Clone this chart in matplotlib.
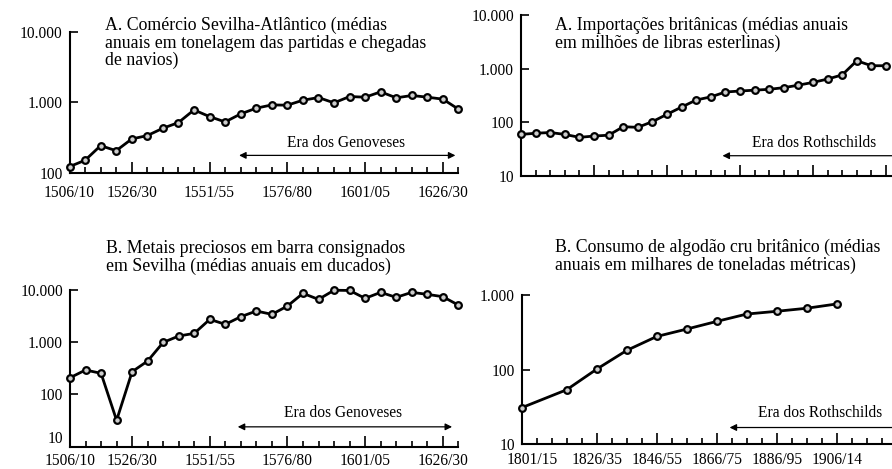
import numpy as np
import matplotlib
matplotlib.use("Agg")
import matplotlib.pyplot as plt
from matplotlib.ticker import FixedLocator, NullFormatter, NullLocator

plt.rcParams["font.family"] = ["Liberation Serif", "DejaVu Serif"]

W, H = 892, 469

# --- data ---
seville_periods = ["1506/10", "1526/30", "1551/55", "1576/80", "1601/05", "1626/30"]
seville_label_idx = [0, 4, 9, 14, 19, 24]
seville_trade = [122, 150, 242, 205, 301, 336, 427, 514, 777, 625, 525, 682, 822,
                 915, 907, 1067, 1164, 979, 1203, 1178, 1402, 1153, 1245, 1178, 1104, 795]
seville_bullion = [209, 294, 254, 32, 273, 437, 993, 1314, 1479, 2742, 2198, 3085, 3958,
                   3417, 4934, 8630, 6610, 9900, 9800, 6920, 9010, 7230, 9010, 8260, 7450, 5150]

uk_imports = [59, 62, 64, 59, 52, 55, 57, 82, 80, 102, 140, 191, 259, 296, 365, 381,
              395, 410, 440, 490, 552, 637, 762, 1400, 1130, 1130]

cotton_periods = ["1801/15", "1816/25", "1826/35", "1836/45", "1846/55", "1856/65",
                  "1866/75", "1876/85", "1886/95", "1896/05", "1906/14"]
cotton_x = [1805, 1820, 1830, 1840, 1850, 1860, 1870, 1880, 1890, 1900, 1910]
cotton = [31, 54, 102, 182, 280, 352, 446, 560, 610, 670, 765]

fig = plt.figure(figsize=(W / 100, H / 100), dpi=100)
fig.patch.set_facecolor("white")

TITLE_FS = 12.8
TICK_FS = 11.2
LS = 1.03


def add_ax(x0, y0, x1, y1):
    # pixel box (top-left origin) -> figure fraction
    return fig.add_axes([x0 / W, 1 - y1 / H, (x1 - x0) / W, (y1 - y0) / H])


def style(ax, ymin, ymax):
    ax.set_yscale("log")
    ax.set_ylim(ymin, ymax)
    for s in ["top", "right"]:
        ax.spines[s].set_visible(False)
    for s in ["left", "bottom"]:
        ax.spines[s].set_linewidth(1.5)
    decades = [10 ** k for k in range(int(np.log10(ymin)), int(np.log10(ymax)) + 1)]
    ax.yaxis.set_major_locator(FixedLocator(decades))
    ax.yaxis.set_minor_locator(NullLocator())
    ax.set_yticklabels([f"{d:,}".replace(",", ".") for d in decades])
    ax.tick_params(axis="y", direction="in", length=6, width=1.2, pad=5, labelsize=TICK_FS)
    ax.tick_params(axis="x", which="major", direction="in", length=8, width=1.2,
                   pad=7, labelsize=TICK_FS)
    ax.tick_params(axis="x", which="minor", direction="in", length=4.5, width=1.2)
    ax.set_facecolor("none")


def series(ax, x, y):
    ax.plot(x, y, color="black", lw=2.0, marker="o", ms=4.8, mfc="#cccccc",
            mec="black", mew=1.6, clip_on=False, zorder=3)


def era(ax, x0, x1, y, label, tx, ty, both=True, ha="center"):
    ax.annotate("", xy=(x0, y), xytext=(x1, y),
                arrowprops=dict(arrowstyle="<|-|>" if both else "-|>",
                                color="black", lw=0.9, mutation_scale=10,
                                shrinkA=0, shrinkB=0),
                annotation_clip=False)
    ax.text(tx, ty, label, ha=ha, va="center", fontsize=11.2)


# --- top left: Seville-Atlantic trade ---
ax1 = add_ax(69.5, 31.7, 458.5, 172.7)
style(ax1, 100, 10000)
idx = np.arange(len(seville_trade))
series(ax1, idx, seville_trade)
ax1.set_xlim(0, 25)
ax1.set_xticks(seville_label_idx, seville_periods)
ax1.xaxis.set_minor_locator(FixedLocator(idx))
ax1.tick_params(axis="x", which="major", pad=9)
era(ax1, 10.9, 24.8, 176, "Era dos Genoveses", 17.8, 260)
fig.text(105 / W, 1 - 17 / H,
         "A. Comércio Sevilha-Atlântico (médias\nanuais em tonelagem das partidas e chegadas\nde navios)",
         ha="left", va="top", fontsize=TITLE_FS, linespacing=LS)

# --- bottom left: bullion ---
ax2 = add_ax(70, 290, 458.3, 446.7)
style(ax2, 10, 10000)
series(ax2, idx, seville_bullion)
ax2.set_xlim(0, 25)
ax2.set_xticks(seville_label_idx, seville_periods)
ax2.xaxis.set_minor_locator(FixedLocator(idx))
ax2.tick_params(axis="x", which="major", pad=4.5)
ax2.get_yticklabels()[0].set_va("bottom")  # "10" sits just above the corner
era(ax2, 10.8, 24.6, 24, "Era dos Genoveses", 17.6, 44.8)
fig.text(106 / W, 1 - 240 / H,
         "B. Metais preciosos em barra consignados\nem Sevilha (médias anuais em ducados)",
         ha="left", va="top", fontsize=TITLE_FS, linespacing=LS)

# --- top right: British imports ---
ax3 = add_ax(521, 15, 907.9, 175.7)
style(ax3, 10, 10000)
idx3 = np.arange(len(uk_imports))
series(ax3, idx3, uk_imports)
ax3.set_xlim(0, 26.5)
ax3.xaxis.set_major_locator(FixedLocator([5, 10, 15, 20, 25]))
ax3.xaxis.set_major_formatter(NullFormatter())
ax3.xaxis.set_minor_locator(FixedLocator(np.arange(27)))
era(ax3, 13.8, 28, 23.6, "Era dos Rothschilds", 15.8, 41.3, both=False, ha="left")
fig.text(555 / W, 1 - 17 / H,
         "A. Importações britânicas (médias anuais\nem milhões de libras esterlinas)",
         ha="left", va="top", fontsize=TITLE_FS, linespacing=LS)

# --- bottom right: raw cotton ---
ax4 = add_ax(521.7, 295.3, 911.7, 444.3)
style(ax4, 10, 1000)
series(ax4, cotton_x, cotton)
ax4.set_xlim(1805, 1935)
ax4.xaxis.set_major_locator(FixedLocator([1830, 1850, 1870, 1890, 1910]))
ax4.set_xticklabels([cotton_periods[i] for i in (2, 4, 6, 8, 10)])
ax4.xaxis.set_minor_locator(FixedLocator(np.arange(1805, 1936, 5)))
ax4.tick_params(axis="x", which="major", pad=5.5)
ax4.text(1808.5, -0.055, cotton_periods[0], transform=ax4.get_xaxis_transform(),
         ha="center", va="top", fontsize=TICK_FS)
era(ax4, 1874.3, 1940, 16.8, "Era dos Rothschilds", 1883.9, 26.1, both=False, ha="left")
fig.text(555 / W, 1 - 239 / H,
         "B. Consumo de algodão cru britânico (médias\nanuais em milhares de toneladas métricas)",
         ha="left", va="top", fontsize=TITLE_FS, linespacing=LS)

fig.savefig("out.png", dpi=100, facecolor="white")
